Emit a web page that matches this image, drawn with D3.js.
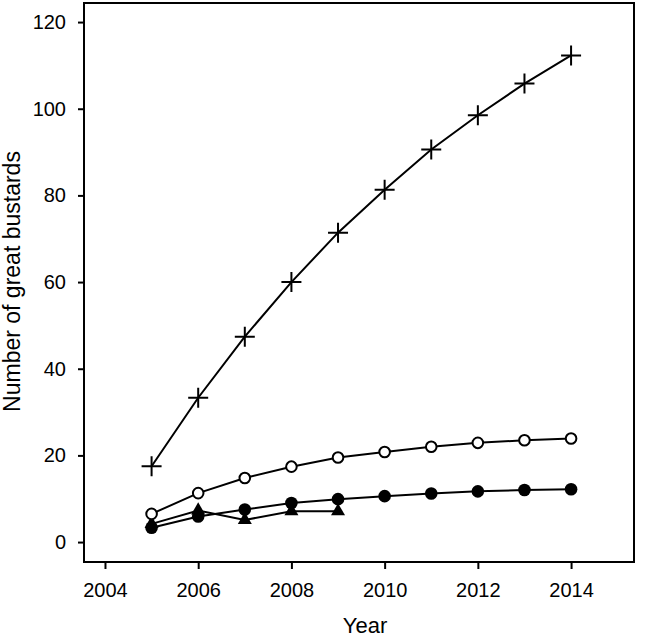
<!DOCTYPE html>
<html>
<head>
<meta charset="utf-8">
<script src="https://cdn.jsdelivr.net/npm/d3@7"></script>
<style>
  body { margin: 0; background: #fff; }
  text { font-family: "Liberation Sans", Arial, sans-serif; fill: #000; }
</style>
</head>
<body>
<script>
// values
const years      = [2005, 2006, 2007, 2008, 2009, 2010, 2011, 2012, 2013, 2014];
const crossVals  = [17.5, 33.3, 47.4, 60.0, 71.4, 81.3, 90.6, 98.5, 105.8, 112.3];
const openVals   = [6.5, 11.3, 14.8, 17.4, 19.5, 20.8, 22.0, 22.9, 23.5, 23.9];
const filledVals = [3.3, 5.9, 7.5, 9.0, 9.9, 10.6, 11.2, 11.7, 12.0, 12.2];
const triYears   = [2005, 2006, 2007, 2008, 2009];
const triVals    = [4.2, 7.3, 5.1, 7.1, 7.1];
const xTicks     = [2004, 2006, 2008, 2010, 2012, 2014];
const yTicks     = [0, 20, 40, 60, 80, 100, 120];

const W = 648, H = 637;
const margin = {top: 3, right: 14, bottom: 75, left: 84};
const width  = W - margin.left - margin.right,
      height = H - margin.top - margin.bottom;

const svg = d3.select("body")
      .append("svg")
      .attr("width", W)
      .attr("height", H);

const chart = svg.append("g")
      .attr("transform", "translate(" + margin.left + "," + margin.top + ")");

const xScale = d3.scaleLinear()
      .domain([2003.55, 2015.35])
      .range([0, width]);

const yScale = d3.scaleLinear()
      .domain([-4.6, 124.4])
      .range([height, 0]);

// axes
const yAxis = chart.append("g")
      .call(d3.axisLeft(yScale).tickValues(yTicks).tickSize(6).tickPadding(12).tickFormat(d3.format("d")));
const xAxis = chart.append("g")
      .attr("transform", "translate(0," + height + ")")
      .call(d3.axisBottom(xScale).tickValues(xTicks).tickSize(7).tickPadding(14).tickFormat(d3.format("d")));

[yAxis, xAxis].forEach(function(a){
    a.select(".domain").remove();
    a.selectAll("line").attr("stroke", "#000").attr("stroke-width", 2);
    a.selectAll("text").attr("font-size", "20px").attr("font-family", "Liberation Sans, Arial, sans-serif");
});

// frame
chart.append("rect")
    .attr("x", 0).attr("y", 0)
    .attr("width", width).attr("height", height)
    .attr("fill", "none")
    .attr("stroke", "#000")
    .attr("stroke-width", 2);

const line = d3.line()
    .x(function(d){ return xScale(d[0]); })
    .y(function(d){ return yScale(d[1]); });

function series(xs, vs){
    return xs.map(function(x, i){ return [x, vs[i]]; });
}

const crossData  = series(years, crossVals);
const openData   = series(years, openVals);
const filledData = series(years, filledVals);
const triData    = series(triYears, triVals);

[triData, filledData, openData, crossData].forEach(function(d){
    chart.append("path")
        .datum(d)
        .attr("d", line)
        .attr("fill", "none")
        .attr("stroke", "#000")
        .attr("stroke-width", 2);
});

// markers
chart.selectAll(".tri")
    .data(triData)
    .enter()
    .append("path")
    .attr("class", "tri")
    .attr("transform", function(d){ return "translate(" + xScale(d[0]) + "," + yScale(d[1]) + ")"; })
    .attr("d", d3.symbol().type(d3.symbolTriangle).size(85))
    .attr("fill", "#000");

chart.selectAll(".filled")
    .data(filledData)
    .enter()
    .append("circle")
    .attr("class", "filled")
    .attr("cx", function(d){ return xScale(d[0]); })
    .attr("cy", function(d){ return yScale(d[1]); })
    .attr("r", 6.3)
    .attr("fill", "#000");

chart.selectAll(".open")
    .data(openData)
    .enter()
    .append("circle")
    .attr("class", "open")
    .attr("cx", function(d){ return xScale(d[0]); })
    .attr("cy", function(d){ return yScale(d[1]); })
    .attr("r", 5.3)
    .attr("fill", "#fff")
    .attr("stroke", "#000")
    .attr("stroke-width", 2);

chart.selectAll(".cross")
    .data(crossData)
    .enter()
    .append("path")
    .attr("class", "cross")
    .attr("transform", function(d){ return "translate(" + xScale(d[0]) + "," + yScale(d[1]) + ")"; })
    .attr("d", "M-10,0H10M0,-10V10")
    .attr("stroke", "#000")
    .attr("stroke-width", 2);

// axis titles
svg.append("text")
    .attr("x", 365)
    .attr("y", 633)
    .attr("text-anchor", "middle")
    .attr("font-size", "22px")
    .text("Year");

svg.append("text")
    .attr("transform", "translate(20,281.5) rotate(-90)")
    .attr("text-anchor", "middle")
    .attr("font-size", "23px")
    .text("Number of great bustards");
</script>
</body>
</html>
